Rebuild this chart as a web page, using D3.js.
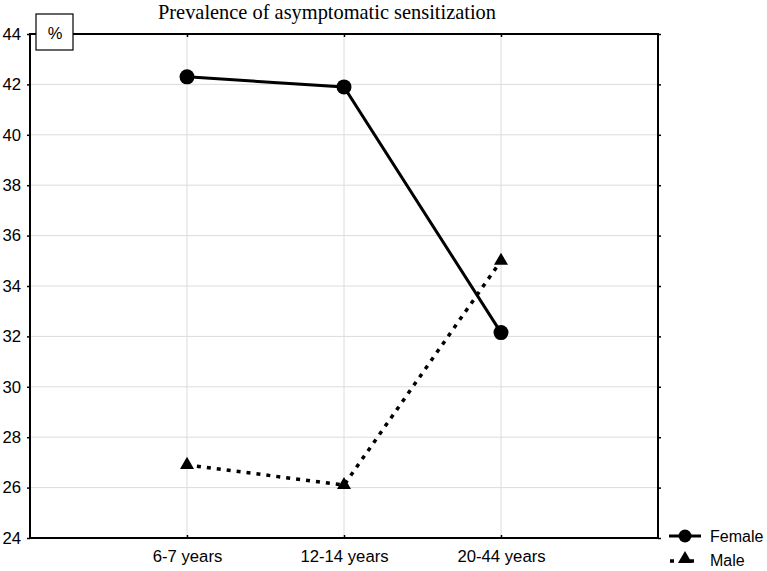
<!DOCTYPE html>
<html><head><meta charset="utf-8">
<script src="https://cdn.jsdelivr.net/npm/d3@7"></script>
<style>body{margin:0;background:#fff}svg{display:block}</style>
</head><body>
<svg id="c" width="767" height="571"></svg>
<script>
const categories = ["6-7 years", "12-14 years", "20-44 years"];
const female = [42.3, 41.9, 32.15];
const male = [26.9, 26.1, 35.0];
const yTicks = [24, 26, 28, 30, 32, 34, 36, 38, 40, 42, 44];
const seriesNames = ["Female", "Male"];
const titleText = "Prevalence of asymptomatic sensitization";

const svg = d3.select("#c");
const L = 30, R = 658, T = 34, B = 538;
const x = d3.scalePoint().domain(categories).range([L, R]).padding(1);
const y = d3.scaleLinear().domain([24, 44]).range([B, T]);
const sans = "Liberation Sans, Arial, sans-serif";

// grid
svg.append("g").selectAll("line").data(yTicks).join("line")
  .attr("x1", L).attr("x2", R).attr("y1", d => y(d)).attr("y2", d => y(d))
  .attr("stroke", "#dcdcdc").attr("stroke-width", 1);
svg.append("g").selectAll("line").data(categories).join("line")
  .attr("x1", d => x(d)).attr("x2", d => x(d)).attr("y1", T).attr("y2", B)
  .attr("stroke", "#dcdcdc").attr("stroke-width", 1);

// axes
const gl = svg.append("g").attr("transform", `translate(${L},0)`)
  .call(d3.axisLeft(y).tickValues(yTicks).tickSize(3).tickPadding(6));
const gr = svg.append("g").attr("transform", `translate(${R},0)`)
  .call(d3.axisLeft(y).tickValues(yTicks).tickSize(-3).tickFormat(""));
const gb = svg.append("g").attr("transform", `translate(0,${B})`)
  .call(d3.axisBottom(x).tickSize(-3).tickPadding(12));
const gt = svg.append("g").attr("transform", `translate(0,${T})`)
  .call(d3.axisTop(x).tickSize(-3).tickFormat(""));
[gl, gr, gb, gt].forEach(g => {
  g.select(".domain").remove();
  g.selectAll(".tick line").attr("stroke", "#000").attr("stroke-width", 1.5);
  g.selectAll("text").attr("font-family", sans).attr("font-size", 16.7).attr("fill", "#000");
});
// frame
svg.append("rect").attr("x", L).attr("y", T).attr("width", R - L).attr("height", B - T)
  .attr("fill", "none").attr("stroke", "#000").attr("stroke-width", 2);

// lines
const line = d3.line().x((d, i) => x(categories[i])).y(d => y(d));
svg.append("path").datum(male).attr("d", line).attr("fill", "none")
  .attr("stroke", "#000").attr("stroke-width", 3.5).attr("stroke-dasharray", "4,6");
svg.append("path").datum(female).attr("d", line).attr("fill", "none")
  .attr("stroke", "#000").attr("stroke-width", 3);

const tri = d3.symbol().type(d3.symbolTriangle).size(85);
svg.append("g").selectAll("path").data(male).join("path")
  .attr("d", tri).attr("transform", (d, i) => `translate(${x(categories[i])},${y(d)})`).attr("fill", "#000");
svg.append("g").selectAll("circle").data(female).join("circle")
  .attr("cx", (d, i) => x(categories[i])).attr("cy", d => y(d)).attr("r", 7.5).attr("fill", "#000");

// title
svg.append("text").attr("x", 327).attr("y", 19).attr("text-anchor", "middle")
  .attr("font-family", "Liberation Serif, Times New Roman, serif").attr("font-size", 20.4)
  .text(titleText);

// % box
svg.append("rect").attr("x", 36).attr("y", 14).attr("width", 37).attr("height", 36)
  .attr("fill", "#fff").attr("stroke", "#000").attr("stroke-width", 1.2);
svg.append("text").attr("x", 55).attr("y", 39).attr("text-anchor", "middle")
  .attr("font-family", sans).attr("font-size", 16.5).text("%");

// legend
const lg = svg.append("g");
lg.append("line").attr("x1", 669).attr("x2", 701).attr("y1", 536).attr("y2", 536)
  .attr("stroke", "#000").attr("stroke-width", 3);
lg.append("circle").attr("cx", 685).attr("cy", 536).attr("r", 6.5).attr("fill", "#000");
lg.append("line").attr("x1", 670).attr("x2", 700).attr("y1", 561).attr("y2", 561)
  .attr("stroke", "#000").attr("stroke-width", 3.5).attr("stroke-dasharray", "4,6");
lg.append("path").attr("d", d3.symbol().type(d3.symbolTriangle).size(85))
  .attr("transform", "translate(685,559)").attr("fill", "#000");
lg.selectAll("text").data(seriesNames).join("text")
  .attr("x", 710).attr("y", (d, i) => 541.5 + i * 24)
  .attr("font-family", sans).attr("font-size", 16).text(d => d);
</script>
</body></html>
